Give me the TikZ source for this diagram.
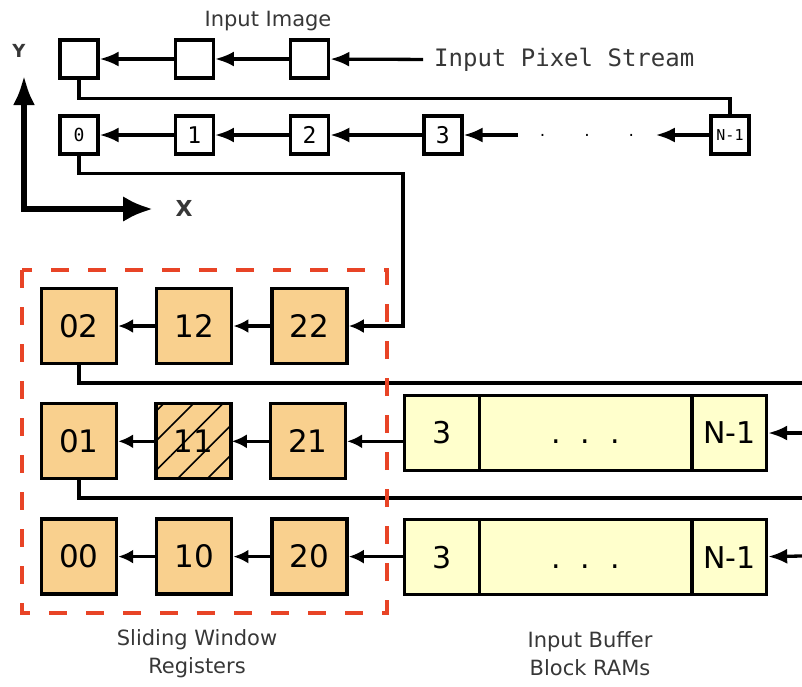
\documentclass[tikz,border=0pt]{standalone}
\usepackage{fontspec}
\setmainfont{DejaVu Sans}
\setmonofont{DejaVu Sans Mono}
\usetikzlibrary{arrows.meta,positioning,patterns.meta}
\definecolor{regfill}{RGB}{249,208,142}
\definecolor{ramfill}{RGB}{255,255,204}
\definecolor{winred}{RGB}{232,68,38}
\definecolor{txtgray}{RGB}{55,55,55}

\begin{document}
\begin{tikzpicture}[x=1pt, y=-1pt,
    every node/.style={align=center},
    pix/.style={draw, line width=3.3pt, minimum size=38pt, inner sep=0pt, font=\ttfamily\fontsize{23}{23}\selectfont},
    reg/.style={draw, line width=3.3pt, fill=regfill, minimum size=75pt, inner sep=0pt, font=\fontsize{31}{31}\selectfont},
    ram/.style={draw, line width=3.3pt, fill=ramfill, minimum height=75pt, inner sep=0pt, font=\fontsize{30}{30}\selectfont},
    lbl/.style={text=txtgray, font=\fontsize{21}{28}\selectfont},
    line/.style={line width=3.3pt, -{Latex[length=19pt,width=15pt]}},
    stepline/.style={line width=3.3pt, -{Latex[length=15pt,width=14pt]}},
    wire/.style={line width=3.3pt},
    axis/.style={line width=6pt, {Latex[length=30pt,width=22pt]}-{Latex[length=30pt,width=26pt]}}
]
\useasboundingbox (0,0) rectangle (802,686);

% input image rows
\node[lbl] (imgtitle) at (268,21) {Input Image};
\node[pix] (img1) at (79,59) {};
\node[pix, right=74pt of img1] (img2) {};
\node[pix, right=74pt of img2] (img3) {};
\node[anchor=west, inner xsep=11pt, text=txtgray, font=\ttfamily\fontsize{24}{24}\selectfont] (pstream) at (423,60) {Input Pixel Stream};

\node[pix, font=\ttfamily\fontsize{18}{18}\selectfont] (pos0) at (79,135) {0};
\node[pix, right=74pt of pos0] (pos1) {1};
\node[pix, right=74pt of pos1] (pos2) {2};
\node[pix, right=92pt of pos2] (pos3) {3};
\node[inner xsep=20pt, font=\ttfamily\fontsize{14}{14}\selectfont] (rdots) at (587,135) {.\hspace{36pt}.\hspace{36pt}.};
\node[pix, font=\ttfamily\fontsize{15}{15}\selectfont] (posN) at (730,135) {N-1};

\draw[line] (pstream) -- (img3);
\draw[line] (img3) -- (img2);
\draw[line] (img2) -- (img1);
\draw[wire] (img1.south) -- ++(0,19) -| (posN.north);
\draw[line] (posN) -- (rdots);
\draw[line] (rdots) -- (pos3);
\draw[line] (pos3) -- (pos2);
\draw[line] (pos2) -- (pos1);
\draw[line] (pos1) -- (pos0);

% axes
\coordinate (ytip) at (24,75);
\coordinate (xtip) at (153,209);
\draw[axis] (ytip) |- (xtip);
\node[text=txtgray, font=\bfseries\fontsize{18}{18}\selectfont] (ylbl) at (19,51) {Y};
\node[text=txtgray, font=\bfseries\fontsize{22}{22}\selectfont] (xlbl) at (184,208) {X};

% sliding window registers
\node[reg] (w02) at (79,326) {02};
\node[reg, right=37pt of w02] (w12) {12};
\node[reg, right=37pt of w12] (w22) {22};
\node[reg, below=37pt of w02] (w01) {01};
\node[reg, right=37pt of w01, preaction={fill=regfill}, pattern={Lines[angle=45,distance=21pt,line width=1.6pt]}] (w11) {11};
\node[reg, right=37pt of w11] (w21) {21};
\node[reg, below=37pt of w01] (w00) {00};
\node[reg, right=37pt of w00] (w10) {10};
\node[reg, right=37pt of w10] (w20) {20};

% input buffer block rams
\node[ram, minimum width=75pt] (ra1) at (442,433) {3};
\node[ram, minimum width=212.5pt, right=-3.3pt of ra1] (rb1) {\vphantom{3}.\hspace{20pt}.\hspace{20pt}.};
\node[ram, minimum width=74.5pt, right=-3.3pt of rb1] (rc1) {N-1};
\node[ram, minimum width=75pt, below=46pt of ra1] (ra2) {3};
\node[ram, minimum width=212.5pt, right=-3.3pt of ra2] (rb2) {\vphantom{3}.\hspace{20pt}.\hspace{20pt}.};
\node[ram, minimum width=74.5pt, right=-3.3pt of rb2] (rc2) {N-1};

\coordinate (edge1) at (802,383);
\coordinate (edge2) at (802,498);
\coordinate (in1) at (802,433);
\coordinate (in2) at (802,556);

\draw[stepline] (pos0.south) -- ++(0,18) -| (ra1.west |- w22) -- (w22);
\draw[stepline] (w22) -- (w12);
\draw[stepline] (w12) -- (w02);
\draw[stepline] (ra1.west |- w21) -- (w21);
\draw[stepline] (w21) -- (w11);
\draw[stepline] (w11) -- (w01);
\draw[stepline] (ra2.west |- w20) -- (w20);
\draw[stepline] (w20) -- (w10);
\draw[stepline] (w10) -- (w00);
\draw[wire] (w02.south) |- (edge1);
\draw[wire] (w01.south) |- (edge2);
\draw[line] (in1) -- (rc1);
\draw[line] (in2) -- (rc2);

\draw[winred, line width=4.5pt, dash pattern=on 18pt off 19pt] (22,270) rectangle (387,613);

\node[lbl] (swlbl) at (197,654) {Sliding Window\\Registers};
\node[lbl] (iblbl) at (590,654) {Input Buffer\\Block RAMs};
\end{tikzpicture}
\end{document}
